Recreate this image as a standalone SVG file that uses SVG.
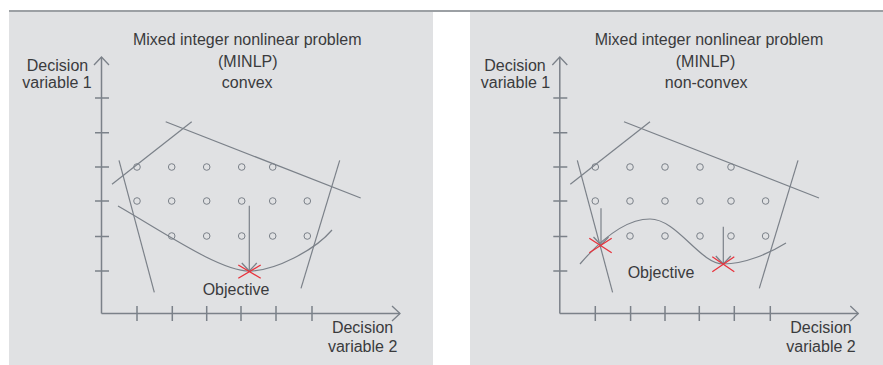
<svg xmlns="http://www.w3.org/2000/svg" width="883" height="365" viewBox="0 0 883 365">
<defs>
<style>
.panel{fill:#e0e1e3;stroke:none}
.axis{fill:none;stroke:#7b8189;stroke-width:1.5}
.ln{fill:none;stroke:#7b8189;stroke-width:1.2}
.pt{fill:none;stroke:#7b8189;stroke-width:1}
.arr{fill:none;stroke:#7b8189;stroke-width:1.2}
.x{fill:none;stroke:#e8323c;stroke-width:1.3}
text{font-family:"Liberation Sans",Arial,Helvetica,sans-serif;font-size:16px;fill:#3a3b3d}
.c{text-anchor:middle}
</style>
<marker id="open" markerUnits="userSpaceOnUse" orient="auto" refX="0" refY="0" markerWidth="20" markerHeight="20" viewBox="-10 -10 20 20" overflow="visible">
<path d="M-8,-7.5 L0,0 L-8,7.5" fill="none" stroke="#7b8189" stroke-width="1.3"/>
</marker>
<g id="pts1">
<circle class="pt" cx="137" cy="167" r="3.3"/><circle class="pt" cx="171.7" cy="167" r="3.3"/><circle class="pt" cx="206.7" cy="167" r="3.3"/><circle class="pt" cx="241.7" cy="167" r="3.3"/><circle class="pt" cx="272.7" cy="167" r="3.3"/>
<circle class="pt" cx="137" cy="201" r="3.3"/><circle class="pt" cx="171.7" cy="201" r="3.3"/><circle class="pt" cx="206.7" cy="201" r="3.3"/><circle class="pt" cx="241.7" cy="201" r="3.3"/><circle class="pt" cx="272.7" cy="201" r="3.3"/><circle class="pt" cx="307.3" cy="201" r="3.3"/>
<circle class="pt" cx="171.7" cy="236" r="3.3"/><circle class="pt" cx="206.7" cy="236" r="3.3"/><circle class="pt" cx="241.7" cy="236" r="3.3"/><circle class="pt" cx="272.7" cy="236" r="3.3"/><circle class="pt" cx="307.3" cy="236" r="3.3"/>
</g>
<g id="axes1">
<path class="axis" d="M101.5,313.5 V57" marker-end="url(#open)"/>
<path class="axis" d="M101.5,313.5 H400" marker-end="url(#open)"/>
<path class="axis" d="M95,98H109M95,132.7H109M95,167H109M95,201H109M95,236.5H109M95,271H109"/>
<path class="axis" d="M137,306V321M172.3,306V321M206.7,306V321M241,306V321M276,306V321M312,306V321"/>
</g>
<g id="cons1">
<line class="ln" x1="112" y1="184.3" x2="191.7" y2="121.7"/>
<line class="ln" x1="165.7" y1="121.7" x2="360.7" y2="198"/>
<line class="ln" x1="119" y1="160.3" x2="154.3" y2="292.3"/>
<line class="ln" x1="339.7" y1="160.3" x2="301" y2="288.3"/>
</g>
</defs>
<line x1="9" y1="11" x2="883" y2="11" stroke="#7b8086" stroke-width="1.5"/>

<g id="panel-convex">
<rect class="panel" x="9" y="12" width="424" height="353"/>
<g id="axes-convex"><use href="#axes1"/></g>
<g id="constraints-convex"><use href="#cons1"/></g>
<g id="points-convex"><use href="#pts1"/></g>
<g id="objective-convex">
<path class="ln" d="M118,206 C165,233 220,271 249.3,271 C275,271 315,250 332,230"/>
<path class="arr" d="M249.3,205.7 V271" marker-end="url(#open)"/>
<path class="x" d="M238.3,265 L260.7,278.3 M260.7,265 L238.3,278.3"/>
<text class="c" x="236" y="295">Objective</text>
</g>
<g id="labels-convex">
<text class="c" x="247.2" y="45">Mixed integer nonlinear problem</text>
<text class="c" x="247.8" y="66.5">(MINLP)</text>
<text class="c" x="247.2" y="88">convex</text>
<text class="c" x="57.5" y="70.5">Decision</text>
<text class="c" x="57" y="88">variable 1</text>
<text class="c" x="362.6" y="333.3">Decision</text>
<text class="c" x="362.6" y="352">variable 2</text>
</g>
</g>

<g id="panel-nonconvex">
<rect class="panel" x="470" y="12" width="413" height="353"/>
<g id="axes-nonconvex" transform="translate(458.3,0)"><use href="#axes1"/></g>
<g id="constraints-nonconvex" transform="translate(458.3,0)"><use href="#cons1"/></g>
<g id="points-nonconvex" transform="translate(458.3,0)"><use href="#pts1"/></g>
<g id="objective-nonconvex">
<path class="ln" d="M580,264 C592,250 620,219 650,219 C677,219 700,264 723.3,264 C745,264 770,253 786,243"/>
<path class="arr" d="M601,208.3 V245" marker-end="url(#open)"/>
<path class="x" d="M589.3,238.3 L611.7,252.7 M611.7,238.3 L589.3,252.7"/>
<path class="arr" d="M723.3,226.7 V264" marker-end="url(#open)"/>
<path class="x" d="M712.3,256.7 L734.3,271.7 M734.3,256.7 L712.3,271.7"/>
<text class="c" x="661" y="278.3">Objective</text>
</g>
<g id="labels-nonconvex">
<text class="c" x="709" y="45">Mixed integer nonlinear problem</text>
<text class="c" x="705.5" y="66.5">(MINLP)</text>
<text class="c" x="706.2" y="88">non-convex</text>
<text class="c" x="515" y="70.5">Decision</text>
<text class="c" x="515.5" y="88">variable 1</text>
<text class="c" x="821" y="333.3">Decision</text>
<text class="c" x="821" y="352">variable 2</text>
</g>
</g>
</svg>
